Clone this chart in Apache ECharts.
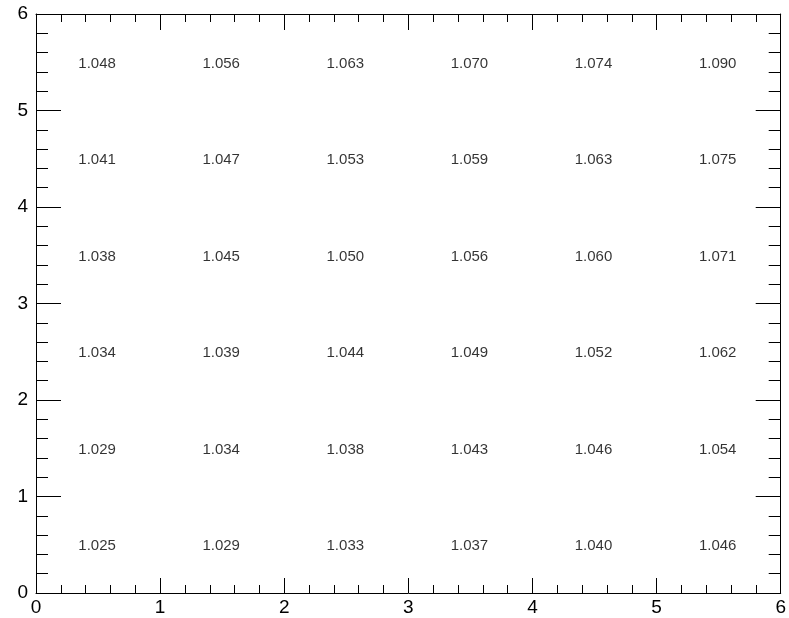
<!DOCTYPE html>
<html><head><meta charset="utf-8">
<script src="https://cdn.jsdelivr.net/npm/echarts@6/dist/echarts.min.js"></script>
<style>html,body{margin:0;padding:0;background:#fff}#c{width:789px;height:618px}</style>
</head><body><div id="c"></div>
<script>
// bin centers
var xCenters = [0.5, 1.5, 2.5, 3.5, 4.5, 5.5];
var yCenters = [0.5, 1.5, 2.5, 3.5, 4.5, 5.5];
// values per row (bottom row y=0.5 first)
var row0 = [1.025, 1.029, 1.033, 1.037, 1.040, 1.046];
var row1 = [1.029, 1.034, 1.038, 1.043, 1.046, 1.054];
var row2 = [1.034, 1.039, 1.044, 1.049, 1.052, 1.062];
var row3 = [1.038, 1.045, 1.050, 1.056, 1.060, 1.071];
var row4 = [1.041, 1.047, 1.053, 1.059, 1.063, 1.075];
var row5 = [1.048, 1.056, 1.063, 1.070, 1.074, 1.090];
var rows = [row0, row1, row2, row3, row4, row5];

var data = [];
rows.forEach(function (r, j) {
  r.forEach(function (v, i) { data.push([xCenters[i], yCenters[j], v]); });
});

var FONT = '"Liberation Sans", Helvetica, Arial, sans-serif';
function axis(pos, show, majorLen, minorLen, isX) {
  return {
    type: 'value', position: pos, min: 0, max: 6, interval: 1,
    axisLine: { show: true, onZero: false, lineStyle: { color: '#000', width: 1 } },
    axisTick: { show: true, inside: true, length: majorLen, lineStyle: { color: '#000', width: 1 } },
    minorTick: { show: true, splitNumber: 5, length: minorLen, lineStyle: { color: '#000', width: 1 } },
    splitLine: { show: false },
    axisLabel: {
      show: show, color: '#000', fontFamily: FONT, fontSize: 19,
      margin: isX ? 5 : 8,
      showMinLabel: true, showMaxLabel: true
    }
  };
}

var chart = echarts.init(document.getElementById('c'), null, { renderer: 'canvas' });
chart.setOption({
  animation: false,
  backgroundColor: '#fff',
  grid: { left: 36, right: 8, top: 14, bottom: 25, containLabel: false },
  xAxis: [axis('bottom', true, 15, 8, true), axis('top', false, 16, 8, true)],
  yAxis: [axis('left', true, 25, 12, false), axis('right', false, 25, 12, false)],
  series: [{
    type: 'scatter', xAxisIndex: 0, yAxisIndex: 0,
    symbolSize: 0, data: data,
    label: {
      show: true, position: 'inside', offset: [-1, 1.5], color: '#000', fontFamily: FONT, fontSize: 15,
      formatter: function (p) { return p.value[2].toFixed(3); }
    }
  }]
});
</script></body></html>
